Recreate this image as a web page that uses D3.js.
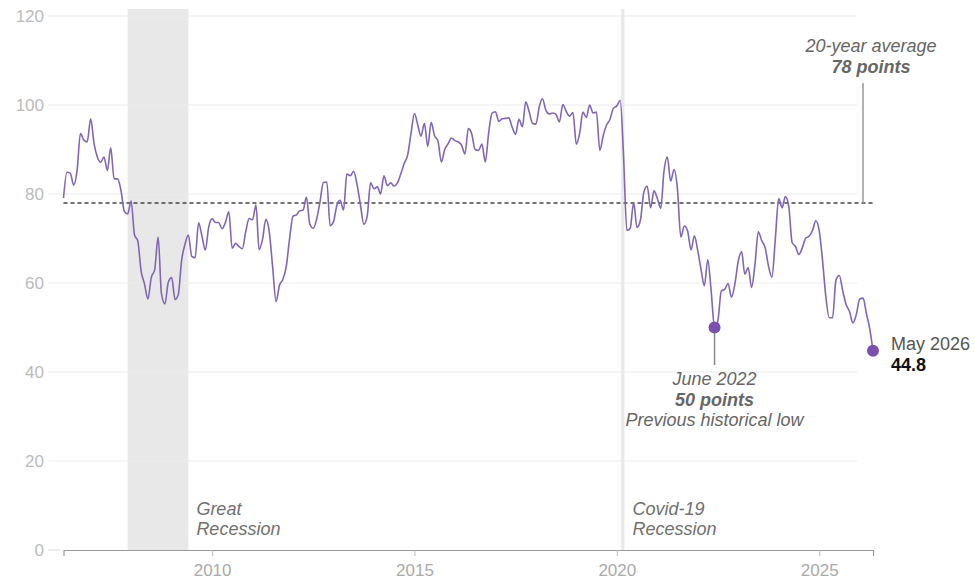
<!DOCTYPE html>
<html>
<head>
<meta charset="utf-8">
<script src="https://cdn.jsdelivr.net/npm/d3@7"></script>
<style>
  html, body { margin: 0; padding: 0; background: #fff; }
  svg { display: block; font-family: "Liberation Sans", Arial, Helvetica, sans-serif; }
</style>
</head>
<body>
<svg id="chart" width="975" height="582"></svg>
<script>
// ---- DATA ----
const startMonth = "2006-05";           // first monthly observation
// Monthly consumer sentiment index, May 2006 -> May 2026
const sentiment = [
  79.1, 84.9, 84.7, 82.0, 85.4, 93.6, 92.1, 91.7,                       // 2006 (May-Dec)
  96.9, 91.3, 88.4, 87.1, 88.3, 85.3, 90.4, 83.4, 83.4, 80.9, 76.1, 75.5, // 2007
  78.4, 70.8, 69.5, 62.6, 59.8, 56.4, 61.2, 63.0, 70.3, 57.6, 55.3, 60.1, // 2008
  61.2, 56.3, 57.3, 65.1, 68.7, 70.8, 66.0, 65.7, 73.5, 70.6, 67.4, 72.5, // 2009
  74.4, 73.6, 73.6, 72.2, 73.6, 76.0, 67.8, 68.9, 68.2, 67.7, 71.6, 74.5, // 2010
  74.2, 77.5, 67.5, 69.8, 74.3, 71.5, 63.7, 55.8, 59.5, 60.8, 63.7, 69.9, // 2011
  75.0, 75.3, 76.2, 76.4, 79.3, 73.2, 72.3, 74.3, 78.3, 82.6, 82.7, 72.9, // 2012
  73.8, 77.6, 78.6, 76.4, 84.5, 84.1, 85.1, 82.1, 77.5, 73.2, 75.1, 82.5, // 2013
  81.2, 81.6, 80.0, 84.1, 81.9, 82.5, 81.8, 82.5, 84.6, 86.9, 88.8, 93.6, // 2014
  98.1, 95.4, 93.0, 95.9, 90.7, 96.1, 93.1, 91.9, 87.2, 90.0, 91.3, 92.6, // 2015
  92.0, 91.7, 91.0, 89.0, 94.7, 93.5, 90.0, 89.8, 91.2, 87.2, 93.8, 98.2, // 2016
  98.5, 96.3, 96.9, 97.0, 97.1, 95.0, 93.4, 96.8, 95.1, 100.7, 98.5, 95.9, // 2017
  95.7, 99.7, 101.4, 98.8, 98.0, 98.2, 97.9, 96.2, 100.1, 98.6, 97.5, 98.3, // 2018
  91.2, 93.8, 98.4, 97.2, 100.0, 98.2, 98.4, 89.8, 93.2, 95.5, 96.8, 99.3, // 2019
  99.8, 101.0, 89.1, 71.8, 72.3, 78.1, 72.5, 74.1, 80.4, 81.8, 76.9, 80.7, // 2020
  79.0, 76.8, 84.9, 88.3, 82.9, 85.5, 81.2, 70.3, 72.8, 71.7, 67.4, 70.6, // 2021
  67.2, 62.8, 59.4, 65.2, 58.4, 50.0, 51.5, 58.2, 58.6, 59.9, 56.8, 59.7, // 2022
  64.9, 67.0, 62.0, 63.5, 59.0, 64.2, 71.5, 69.5, 67.9, 63.8, 61.3, 69.7, // 2023
  79.0, 76.9, 79.4, 77.2, 69.1, 68.2, 66.4, 67.9, 70.1, 70.5, 71.8, 74.0, // 2024
  71.7, 64.7, 57.0, 52.2, 52.2, 60.7, 61.7, 58.2, 55.1, 53.6, 51.0, 52.9, // 2025
  56.4, 56.6, 53.3, 49.8, 44.8                                            // 2026 (Jan-May)
];
const yTicks = [0, 20, 40, 60, 80, 100, 120];
const xTickYears = [2010, 2015, 2020, 2025];
const average = 78;
const recessions = [
  { name: ["Great", "Recession"], start: "2007-12-01", end: "2009-06-01" },
  { name: ["Covid-19", "Recession"], start: "2020-02-10", end: "2020-03-10" }
];
const lowPoint = { date: "2022-06", value: 50, lines: ["June 2022", "50 points", "Previous historical low"] };
const lastPoint = { date: "2026-05", value: 44.8, lines: ["May 2026", "44.8"] };
const avgLabel = ["20-year average", "78 points"];

// ---- BUILD ----
const parseM = d3.timeParse("%Y-%m");
const parseD = d3.timeParse("%Y-%m-%d");
const start = parseM(startMonth);
const data = sentiment.map((v, i) => ({ date: d3.timeMonth.offset(start, i), value: v }));

const svg = d3.select("#chart");
const x = d3.scaleTime()
  .domain([start, data[data.length - 1].date])
  .range([63.5, 873]);
const y = d3.scaleLinear().domain([0, 120]).range([550, 16]);

const gridLeft = 48, gridRight = 857;
const annSize = 18;

// recession bands
svg.append("g").selectAll("rect").data(recessions).join("rect")
  .attr("x", d => x(parseD(d.start)))
  .attr("width", d => Math.max(1, x(parseD(d.end)) - x(parseD(d.start))))
  .attr("y", 9)
  .attr("height", y(0) - 9)
  .attr("fill", "#e8e8e8");

// gridlines
svg.append("g").selectAll("line").data(yTicks.filter(t => t > 0)).join("line")
  .attr("x1", gridLeft).attr("x2", gridRight)
  .attr("y1", d => y(d)).attr("y2", d => y(d))
  .attr("stroke", "#ebebeb").attr("stroke-width", 1);
svg.append("line")
  .attr("x1", gridLeft).attr("x2", 60)
  .attr("y1", y(0)).attr("y2", y(0))
  .attr("stroke", "#d8d8d8");

// y labels
svg.append("g").selectAll("text").data(yTicks).join("text")
  .attr("x", 44).attr("y", d => y(d))
  .attr("dy", "0.36em")
  .attr("text-anchor", "end")
  .attr("font-size", 17)
  .attr("fill", "#bbbbbb")
  .text(d => d);

// recession labels
recessions.forEach(r => {
  const t = svg.append("text")
    .attr("font-size", annSize).attr("font-style", "italic").attr("fill", "#707070");
  r.name.forEach((line, i) => {
    t.append("tspan")
      .attr("x", x(parseD(r.end)) + 8)
      .attr("y", 515 + i * 20)
      .text(line);
  });
});

// x axis
const xAxis = d3.axisBottom(x)
  .tickValues(xTickYears.map(yr => new Date(yr, 0, 1)))
  .tickFormat(d3.timeFormat("%Y"))
  .tickSize(6).tickSizeOuter(6);
const gx = svg.append("g").attr("transform", `translate(0,${y(0)})`).call(xAxis);
gx.select(".domain").attr("stroke", "#9a9a9a").attr("stroke-width", 1.2);
gx.selectAll(".tick line").attr("stroke", "#bbbbbb");
gx.selectAll(".tick text")
  .attr("y", 14)
  .attr("font-size", 17)
  .attr("font-family", "Liberation Sans, Arial, sans-serif")
  .attr("fill", "#aaaaaa");

// average dashed line
svg.append("line")
  .attr("x1", x(start)).attr("x2", x(data[data.length - 1].date))
  .attr("y1", y(average)).attr("y2", y(average))
  .attr("stroke", "#444").attr("stroke-width", 1.5)
  .attr("stroke-dasharray", "4,3");

// average annotation
svg.append("line")
  .attr("x1", 863).attr("x2", 863)
  .attr("y1", 83).attr("y2", y(average))
  .attr("stroke", "#999").attr("stroke-width", 1.5);
const avgT = svg.append("text").attr("text-anchor", "middle").attr("font-size", annSize)
  .attr("font-style", "italic").attr("fill", "#666");
avgT.append("tspan").attr("x", 871).attr("y", 52).text(avgLabel[0]);
avgT.append("tspan").attr("x", 871).attr("y", 73).attr("font-weight", "bold").text(avgLabel[1]);

// main line
const line = d3.line()
  .x(d => x(d.date)).y(d => y(d.value))
  .curve(d3.curveMonotoneX);
svg.append("path")
  .datum(data)
  .attr("fill", "none")
  .attr("stroke", "#8166b5")
  .attr("stroke-width", 1.6)
  .attr("stroke-linejoin", "round")
  .attr("d", line);

// low point annotation
const lx = x(parseM(lowPoint.date)), ly = y(lowPoint.value);
svg.append("line")
  .attr("x1", lx).attr("x2", lx).attr("y1", ly).attr("y2", 365)
  .attr("stroke", "#888").attr("stroke-width", 1.5);
svg.append("circle").attr("cx", lx).attr("cy", ly).attr("r", 6).attr("fill", "#7b4fae");
const lowT = svg.append("text").attr("text-anchor", "middle").attr("font-size", annSize)
  .attr("font-style", "italic").attr("fill", "#666");
lowPoint.lines.forEach((s, i) => {
  lowT.append("tspan").attr("x", lx).attr("y", 385 + i * 20.5)
    .attr("font-weight", i === 1 ? "bold" : null).text(s);
});

// last point
const ex = x(parseM(lastPoint.date)), ey = y(lastPoint.value);
svg.append("circle").attr("cx", ex).attr("cy", ey).attr("r", 6).attr("fill", "#7b4fae");
svg.append("text").attr("x", 891).attr("y", 350).attr("font-size", annSize).attr("fill", "#555")
  .text(lastPoint.lines[0]);
svg.append("text").attr("x", 891).attr("y", 371).attr("font-size", annSize).attr("font-weight", "bold")
  .attr("fill", "#111").text(lastPoint.lines[1]);
</script>
</body>
</html>
